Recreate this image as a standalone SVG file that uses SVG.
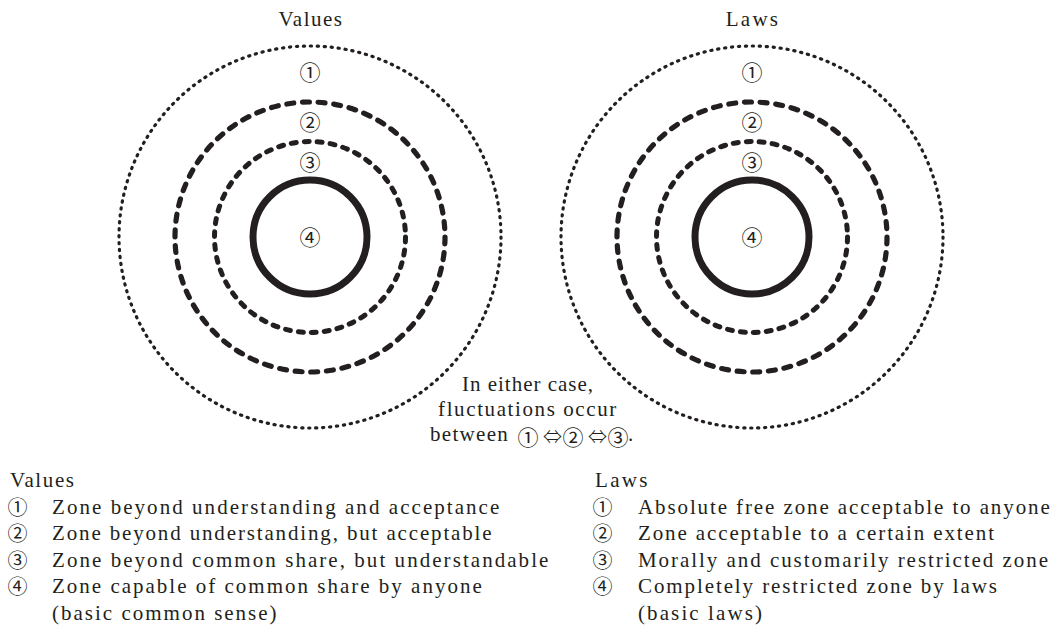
<svg xmlns="http://www.w3.org/2000/svg" width="1061" height="633" viewBox="0 0 1061 633">
  <style>
    .t { font-family: "Liberation Serif", "Times New Roman", serif; font-size: 21px; fill: #231f20; letter-spacing: 2px; }
    .c { font-family: "Noto Sans CJK JP", "DejaVu Sans", sans-serif; font-size: 21px; fill: #231f20; text-anchor: middle; }
    .cl { font-family: "Noto Sans CJK JP", "DejaVu Sans", sans-serif; font-size: 20px; fill: #231f20; text-anchor: middle; }
    .ar { font-family: "Noto Sans CJK JP", "DejaVu Sans", sans-serif; font-size: 19px; fill: #231f20; font-weight: 300; text-anchor: middle; }
    .mid { text-anchor: middle; }
    .dot { fill: none; stroke: #231f20; stroke-width: 3.2; stroke-linecap: round; }
    .dash2 { fill: none; stroke: #231f20; stroke-width: 5.2; stroke-linecap: round; }
    .dash3 { fill: none; stroke: #231f20; stroke-width: 5; stroke-linecap: round; }
    .solid { fill: none; stroke: #231f20; stroke-width: 7; }
  </style>
  <rect width="1061" height="633" fill="#ffffff"/>

  <!-- Values diagram -->
  <g id="values-diagram">
    <text id="values-title" class="t mid" x="311" y="26" style="letter-spacing:1.5px">Values</text>
    <g id="values-zone1">
      <circle cx="310" cy="237" r="191" class="dot" stroke-dasharray="1.2 5.777"/>
      <text class="c" x="310" y="80">①</text>
    </g>
    <g id="values-zone2">
      <circle cx="310" cy="237" r="135" class="dash2" stroke-dasharray="7 8.708"/>
      <text class="c" x="310" y="130">②</text>
    </g>
    <g id="values-zone3">
      <circle cx="310" cy="237" r="95.5" class="dash3" stroke-dasharray="5 8.044"/>
      <text class="c" x="310" y="170">③</text>
    </g>
    <g id="values-zone4">
      <circle cx="310" cy="237" r="57" class="solid"/>
      <text class="c" x="310" y="245">④</text>
    </g>
  </g>

  <!-- Laws diagram -->
  <g id="laws-diagram">
    <text id="laws-title" class="t mid" x="753" y="26" style="letter-spacing:2.3px">Laws</text>
    <g id="laws-zone1">
      <circle cx="752" cy="237" r="191" class="dot" stroke-dasharray="1.2 5.777"/>
      <text class="c" x="752" y="80">①</text>
    </g>
    <g id="laws-zone2">
      <circle cx="752" cy="237" r="135" class="dash2" stroke-dasharray="7 8.708"/>
      <text class="c" x="752" y="130">②</text>
    </g>
    <g id="laws-zone3">
      <circle cx="752" cy="237" r="95.5" class="dash3" stroke-dasharray="5 8.044"/>
      <text class="c" x="752" y="170">③</text>
    </g>
    <g id="laws-zone4">
      <circle cx="752" cy="237" r="57" class="solid"/>
      <text class="c" x="752" y="245">④</text>
    </g>
  </g>

  <!-- Middle note -->
  <g id="note">
    <text class="t mid" x="528" y="391" style="letter-spacing:1px">In either case,</text>
    <text class="t mid" x="528" y="416" style="letter-spacing:1.6px">fluctuations occur</text>
    <text class="t" x="430" y="441" style="letter-spacing:1.3px">between</text>
    <text class="c" x="528" y="445">①</text>
    <text class="ar" x="552.5" y="443.5">⇔</text>
    <text class="c" x="573" y="445">②</text>
    <text class="ar" x="597.5" y="443.5">⇔</text>
    <text class="c" x="618" y="445">③</text>
    <text class="t" x="628" y="441">.</text>
  </g>

  <!-- Values legend -->
  <g id="values-legend">
    <text class="t" x="10" y="487" style="letter-spacing:1.6px">Values</text>
    <text class="cl" x="17.5" y="514.5">①</text>
    <text class="t" x="52" y="514" style="letter-spacing:2.05px">Zone beyond understanding and acceptance</text>
    <text class="cl" x="17.5" y="540.5">②</text>
    <text class="t" x="52" y="540" style="letter-spacing:1.85px">Zone beyond understanding, but acceptable</text>
    <text class="cl" x="17.5" y="567.5">③</text>
    <text class="t" x="52" y="567" style="letter-spacing:2.05px">Zone beyond common share, but understandable</text>
    <text class="cl" x="17.5" y="593.5">④</text>
    <text class="t" x="52" y="593" style="letter-spacing:2px">Zone capable of common share by anyone</text>
    <text class="t" x="52" y="620" style="letter-spacing:2px">(basic common sense)</text>
  </g>

  <!-- Laws legend -->
  <g id="laws-legend">
    <text class="t" x="595" y="487" style="letter-spacing:2.3px">Laws</text>
    <text class="cl" x="602.5" y="514.5">①</text>
    <text class="t" x="638" y="514" style="letter-spacing:1.89px">Absolute free zone acceptable to anyone</text>
    <text class="cl" x="602.5" y="540.5">②</text>
    <text class="t" x="638" y="540" style="letter-spacing:1.88px">Zone acceptable to a certain extent</text>
    <text class="cl" x="602.5" y="567.5">③</text>
    <text class="t" x="638" y="567" style="letter-spacing:1.95px">Morally and customarily restricted zone</text>
    <text class="cl" x="602.5" y="593.5">④</text>
    <text class="t" x="638" y="593" style="letter-spacing:1.9px">Completely restricted zone by laws</text>
    <text class="t" x="638" y="620" style="letter-spacing:2.1px">(basic laws)</text>
  </g>
</svg>
